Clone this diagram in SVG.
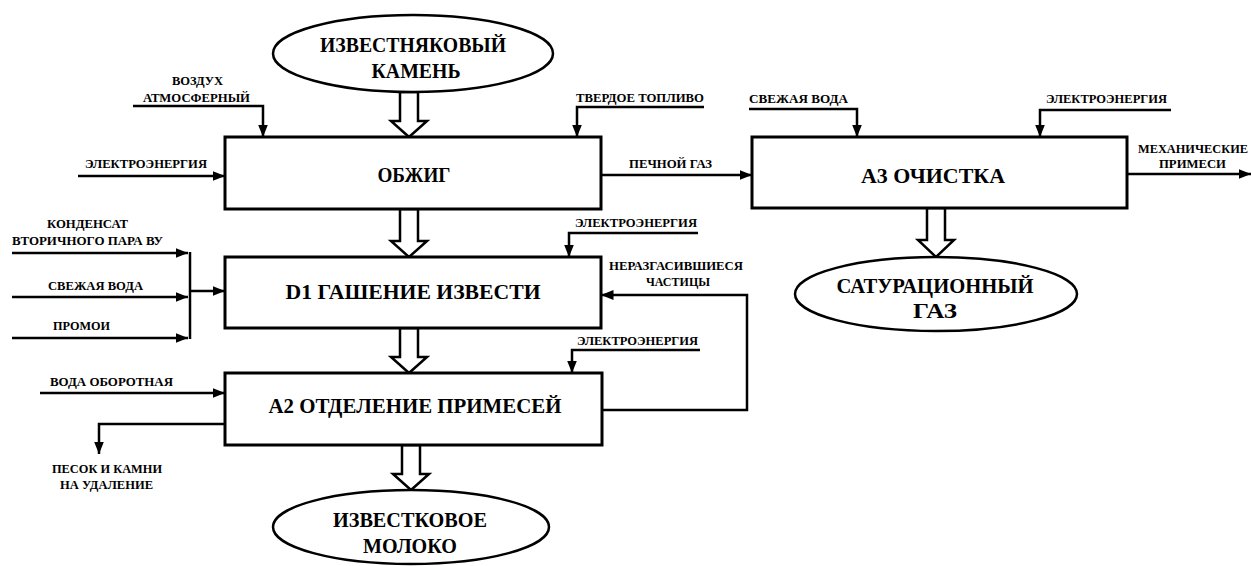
<svg xmlns="http://www.w3.org/2000/svg" width="1251" height="566" viewBox="0 0 1251 566">
<defs>
<style>
.box{fill:#fff;stroke:#000;stroke-width:3}
.ell{fill:#fff;stroke:#000;stroke-width:2.5}
.ln{fill:none;stroke:#000;stroke-width:2.5}
.ha{fill:#fff;stroke:#000;stroke-width:2.5;stroke-linejoin:miter}
.big{font-family:"Liberation Serif",serif;font-weight:bold;font-size:22px;text-anchor:middle;fill:#000}
.sm{font-family:"Liberation Serif",serif;font-weight:bold;font-size:12.5px;text-anchor:middle;fill:#000}
</style>
<marker id="ar" viewBox="0 0 10 10" refX="10" refY="5" markerWidth="5" markerHeight="5" orient="auto" markerUnits="strokeWidth">
<path d="M0,1 L10,5 L0,9 Z" fill="#000"/>
</marker>
</defs>
<rect width="1251" height="566" fill="#fff"/>

<g id="connectors">
<path class="ha" d="M400,92 L400,121 L391,121 L409,137 L427,121 L418,121 L418,92 Z"/>
<path class="ha" d="M400,209 L400,241 L391,241 L409,257 L427,241 L418,241 L418,209 Z"/>
<path class="ha" d="M400,328 L400,357 L391,357 L409,373 L427,357 L418,357 L418,328 Z"/>
<path class="ha" d="M402,445 L402,474 L393,474 L411,490 L429,474 L420,474 L420,445 Z"/>
<path class="ha" d="M927,208 L927,240 L918,240 L936,257 L954,240 L945,240 L945,208 Z"/>
<path class="ln" d="M133,106 L263,106 L263,137" marker-end="url(#ar)"/>
<path class="ln" d="M704,107 L577,107 L577,137" marker-end="url(#ar)"/>
<path class="ln" d="M78,176 L225,176" marker-end="url(#ar)"/>
<path class="ln" d="M601,175 L752,175" marker-end="url(#ar)"/>
<path class="ln" d="M749,109 L857,109 L857,137" marker-end="url(#ar)"/>
<path class="ln" d="M1171,110 L1040,110 L1040,137" marker-end="url(#ar)"/>
<path class="ln" d="M1127,174 L1251,174" marker-end="url(#ar)"/>
<path class="ln" d="M698,233 L569,233 L569,257" marker-end="url(#ar)"/>
<path class="ln" d="M12,253 L188,253" marker-end="url(#ar)"/>
<path class="ln" d="M12,297 L188,297" marker-end="url(#ar)"/>
<path class="ln" d="M12,338 L188,338" marker-end="url(#ar)"/>
<path class="ln" d="M190,252 L190,339"/>
<path class="ln" d="M190,291 L225,291" marker-end="url(#ar)"/>
<path class="ln" d="M602,410 L747,410 L747,295 L601,295" marker-end="url(#ar)"/>
<path class="ln" d="M700,350 L572,350 L572,373" marker-end="url(#ar)"/>
<path class="ln" d="M40,393 L225,393" marker-end="url(#ar)"/>
<path class="ln" d="M225,424 L99,424 L99,454" marker-end="url(#ar)"/>
</g>

<g id="n-stone">
<ellipse class="ell" cx="413" cy="53.5" rx="140" ry="38.5"/>
<text class="big" x="413" y="52" textLength="186" lengthAdjust="spacingAndGlyphs">ИЗВЕСТНЯКОВЫЙ</text>
<text class="big" x="416" y="78" textLength="89" lengthAdjust="spacingAndGlyphs">КАМЕНЬ</text>
</g>
<g id="n-obzhig">
<rect class="box" x="225" y="137" width="376" height="72"/>
<text class="big" x="414" y="182" textLength="73" lengthAdjust="spacingAndGlyphs">ОБЖИГ</text>
</g>
<g id="n-a3">
<rect class="box" x="752" y="137" width="375" height="71"/>
<text class="big" x="933" y="183" textLength="144" lengthAdjust="spacingAndGlyphs">А3  ОЧИСТКА</text>
</g>
<g id="n-gas">
<ellipse class="ell" cx="936" cy="294" rx="141" ry="37"/>
<text class="big" x="935" y="293" textLength="197" lengthAdjust="spacingAndGlyphs">САТУРАЦИОННЫЙ</text>
<text class="big" x="935" y="318" textLength="44" lengthAdjust="spacingAndGlyphs">ГАЗ</text>
</g>
<g id="n-d1">
<rect class="box" x="225" y="257" width="376" height="71"/>
<text class="big" x="413" y="299" textLength="255" lengthAdjust="spacingAndGlyphs">D1  ГАШЕНИЕ ИЗВЕСТИ</text>
</g>
<g id="n-a2">
<rect class="box" x="225" y="373" width="377" height="72"/>
<text class="big" x="415" y="413" textLength="293" lengthAdjust="spacingAndGlyphs">А2   ОТДЕЛЕНИЕ ПРИМЕСЕЙ</text>
</g>
<g id="n-milk">
<ellipse class="ell" cx="411" cy="527" rx="138" ry="37"/>
<text class="big" x="410" y="527" textLength="154" lengthAdjust="spacingAndGlyphs">ИЗВЕСТКОВОЕ</text>
<text class="big" x="410" y="553" textLength="94" lengthAdjust="spacingAndGlyphs">МОЛОКО</text>
</g>

<g id="labels">
<text class="sm" x="197.5" y="85" textLength="51" lengthAdjust="spacingAndGlyphs">ВОЗДУХ</text>
<text class="sm" x="196.5" y="102" textLength="107" lengthAdjust="spacingAndGlyphs">АТМОСФЕРНЫЙ</text>
<text class="sm" x="146" y="168" textLength="122" lengthAdjust="spacingAndGlyphs">ЭЛЕКТРОЭНЕРГИЯ</text>
<text class="sm" x="640" y="102" textLength="128" lengthAdjust="spacingAndGlyphs">ТВЕРДОЕ ТОПЛИВО</text>
<text class="sm" x="670.5" y="168" textLength="83" lengthAdjust="spacingAndGlyphs">ПЕЧНОЙ ГАЗ</text>
<text class="sm" x="798.5" y="103" textLength="99" lengthAdjust="spacingAndGlyphs">СВЕЖАЯ  ВОДА</text>
<text class="sm" x="1106.5" y="103" textLength="121" lengthAdjust="spacingAndGlyphs">ЭЛЕКТРОЭНЕРГИЯ</text>
<text class="sm" x="1193" y="153" textLength="110" lengthAdjust="spacingAndGlyphs">МЕХАНИЧЕСКИЕ</text>
<text class="sm" x="1192.5" y="168" textLength="67" lengthAdjust="spacingAndGlyphs">ПРИМЕСИ</text>
<text class="sm" x="87.5" y="228" textLength="81" lengthAdjust="spacingAndGlyphs">КОНДЕНСАТ</text>
<text class="sm" x="87.5" y="245" textLength="151" lengthAdjust="spacingAndGlyphs">ВТОРИЧНОГО ПАРА ВУ</text>
<text class="sm" x="95.5" y="290" textLength="95" lengthAdjust="spacingAndGlyphs">СВЕЖАЯ ВОДА</text>
<text class="sm" x="81.5" y="330" textLength="57" lengthAdjust="spacingAndGlyphs">ПРОМОИ</text>
<text class="sm" x="636" y="227" textLength="122" lengthAdjust="spacingAndGlyphs">ЭЛЕКТРОЭНЕРГИЯ</text>
<text class="sm" x="676" y="270" textLength="134" lengthAdjust="spacingAndGlyphs">НЕРАЗГАСИВШИЕСЯ</text>
<text class="sm" x="678" y="286" textLength="64" lengthAdjust="spacingAndGlyphs">ЧАСТИЦЫ</text>
<text class="sm" x="637.5" y="345" textLength="121" lengthAdjust="spacingAndGlyphs">ЭЛЕКТРОЭНЕРГИЯ</text>
<text class="sm" x="111.5" y="386" textLength="123" lengthAdjust="spacingAndGlyphs">ВОДА ОБОРОТНАЯ</text>
<text class="sm" x="107" y="473" textLength="110" lengthAdjust="spacingAndGlyphs">ПЕСОК И КАМНИ</text>
<text class="sm" x="106.5" y="489" textLength="93" lengthAdjust="spacingAndGlyphs">НА УДАЛЕНИЕ</text>
</g>
</svg>
